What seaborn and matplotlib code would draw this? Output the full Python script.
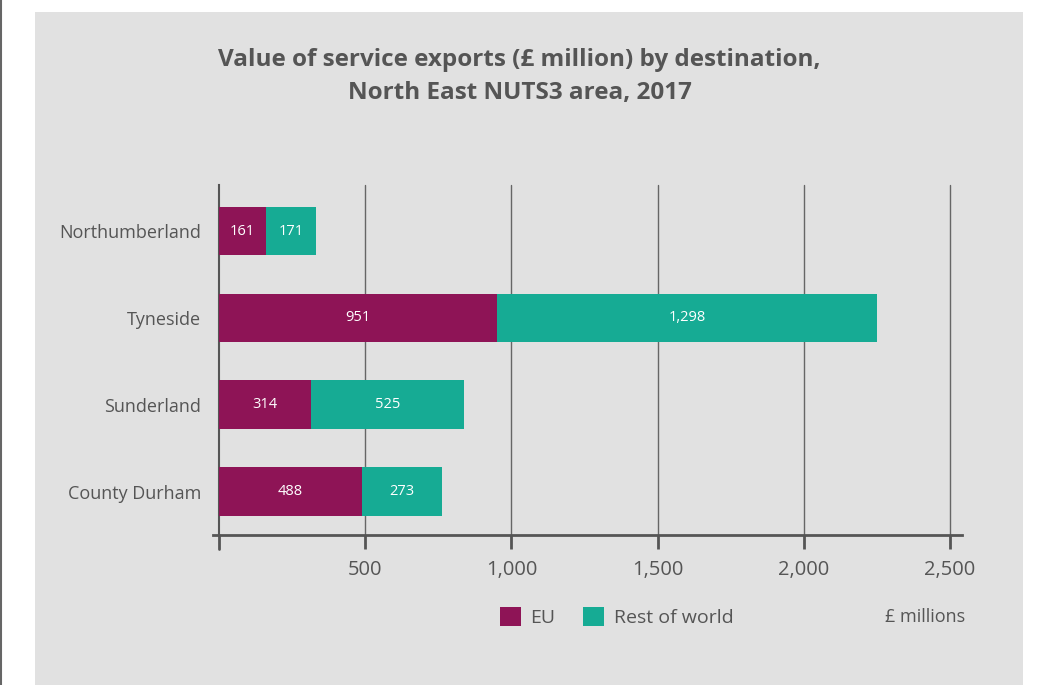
import pandas as pd
import numpy as np
import matplotlib.pyplot as plt
import seaborn as sns
from matplotlib.patches import Patch

AREAS = ['Northumberland', 'Tyneside', 'Sunderland', 'County Durham']
EU = [161, 951, 314, 488]
REST = [171, 1298, 525, 273]
TICKS = [500, 1000, 1500, 2000, 2500]

EU_COL = '#8e1456'
REST_COL = '#16ab94'
TXT = '#555555'
PANEL = '#e1e1e1'

df = pd.DataFrame({'area': AREAS, 'EU': EU, 'Rest of world': REST})
df['total'] = df['EU'] + df['Rest of world']

sns.set_style('white')
plt.rcParams['font.family'] = ['Open Sans', 'DejaVu Sans']

fig = plt.figure(figsize=(10.39, 6.85), dpi=100)
fig.patch.set_facecolor('white')
# grey panel behind the chart
fig.patches.append(plt.Rectangle((35 / 1039, 0), (1023 - 35) / 1039, 1 - 12 / 685,
                                 transform=fig.transFigure, facecolor=PANEL,
                                 edgecolor='none', zorder=-10))
fig.lines.append(plt.Line2D([0.001, 0.001], [0, 1], transform=fig.transFigure,
                            color='#666666', lw=1.5))

ax = fig.add_axes([219 / 1039, 1 - 535 / 685, (950 - 219) / 1039, (535 - 185) / 685])
ax.set_facecolor(PANEL)

# totals first (rest of world colour), EU drawn over it
sns.barplot(data=df, y='area', x='total', color=REST_COL, orient='h',
            width=0.56, saturation=1, linewidth=0, edgecolor='none', ax=ax, zorder=3)
sns.barplot(data=df, y='area', x='EU', color=EU_COL, orient='h',
            width=0.56, saturation=1, linewidth=0, edgecolor='none', ax=ax, zorder=4)

for i, row in df.iterrows():
    ax.text(row['EU'] / 2, i, f"{row['EU']:,}", color='white', ha='center',
            va='center', fontsize=10.5, zorder=5)
    ax.text(row['EU'] + row['Rest of world'] / 2, i, f"{row['Rest of world']:,}",
            color='white', ha='center', va='center', fontsize=10.5, zorder=5)

ax.set_xlim(0, 2500)
ax.set_ylim(3.5, -0.53)
ax.set_xticks(TICKS)
ax.set_xticklabels([f'{t:,}' for t in TICKS])
for t in TICKS:
    ax.axvline(t, color='#666666', lw=1, zorder=1, clip_on=False)
for s in ['top', 'right']:
    ax.spines[s].set_visible(False)
ax.spines['left'].set_color('#555555')
ax.spines['left'].set_linewidth(1.5)
ax.spines['bottom'].set_color('#555555')
ax.spines['bottom'].set_linewidth(2)
ax.spines['bottom'].set_bounds(-20, 2540)
ax.spines['bottom'].set_zorder(6)

ax.tick_params(axis='x', length=10, width=2, color='#555555', labelsize=14.5,
               labelcolor=TXT, pad=8, bottom=True, direction='out')
ax.tick_params(axis='y', length=0, labelsize=13, labelcolor=TXT, pad=13)
ax.set_xlabel('')
ax.set_ylabel('')
# tick at zero below the axis
ax.plot([0, 0], [3.5, 3.66], color='#555555', lw=2, clip_on=False, zorder=6)

fig.text(0.5, 1 - 60 / 685, 'Value of service exports (£ million) by destination,',
         ha='center', va='center', fontsize=17.5, fontweight='bold', color=TXT)
fig.text(0.5, 1 - 93 / 685, 'North East NUTS3 area, 2017',
         ha='center', va='center', fontsize=17.5, fontweight='bold', color=TXT)

handles = [Patch(facecolor=EU_COL, edgecolor='none', label='EU'),
           Patch(facecolor=REST_COL, edgecolor='none', label='Rest of world')]
fig.legend(handles=handles, loc='center left', bbox_to_anchor=(482 / 1039, 1 - 617 / 685),
           ncol=2, frameon=False, fontsize=14, labelcolor=TXT, handlelength=1.1,
           handleheight=1.1, handletextpad=0.5, columnspacing=1.4)
fig.text(965 / 1039, 1 - 617 / 685, '£ millions', ha='right', va='center',
         fontsize=13, color=TXT)

fig.savefig('out.png', dpi=100, facecolor='white')
